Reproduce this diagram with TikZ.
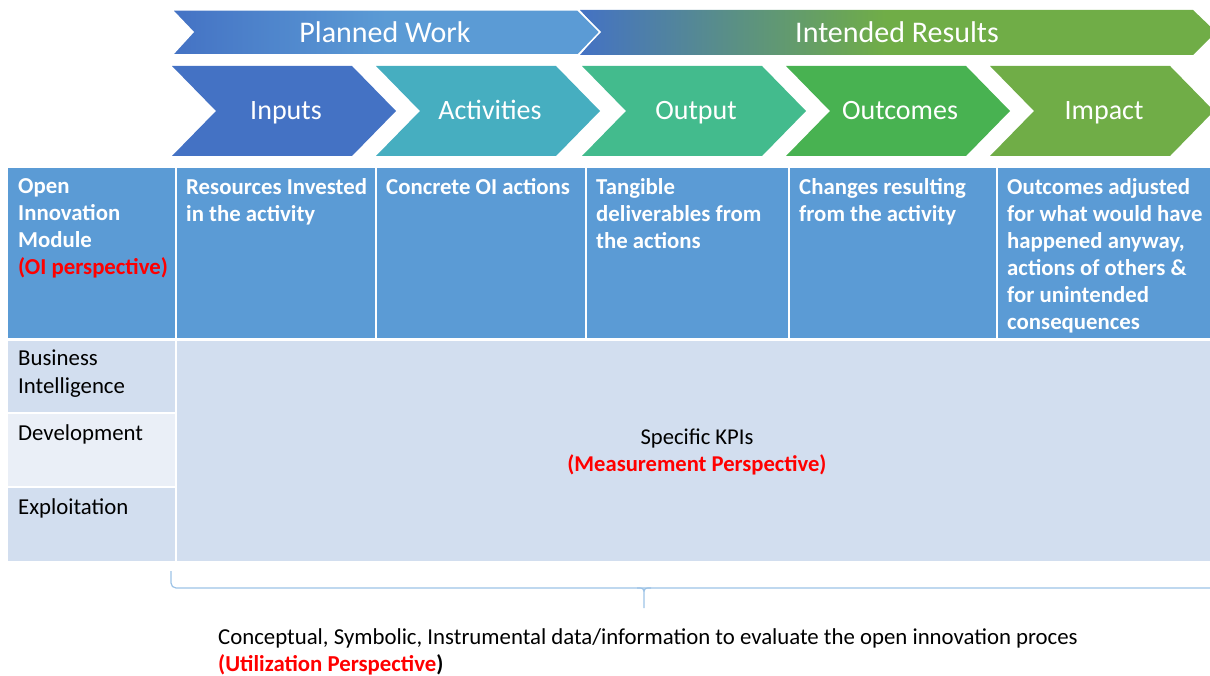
\documentclass[tikz,border=0pt]{standalone}
\usepackage{fontspec}
\setmainfont{Carlito}
\usetikzlibrary{positioning}
\definecolor{inblue}{HTML}{4472C4}
\definecolor{actteal}{HTML}{46AEC0}
\definecolor{outgreen}{HTML}{43BB8D}
\definecolor{ocgreen}{HTML}{48B251}
\definecolor{impgreen}{HTML}{70AD47}
\definecolor{hdrblue}{HTML}{5B9BD5}
\definecolor{kpifill}{HTML}{D2DEEF}
\definecolor{devfill}{HTML}{EAEFF7}
\definecolor{bracecol}{HTML}{9DC3E6}
\pgfdeclarehorizontalshading{planned}{100bp}{color(0bp)=(inblue); color(25bp)=(inblue); color(50bp)=(hdrblue); color(100bp)=(hdrblue)}
\pgfdeclarehorizontalshading{intended}{100bp}{color(0bp)=(inblue); color(25bp)=(inblue); color(49bp)=(impgreen); color(100bp)=(impgreen)}
\tikzset{
  chev/.style={font=\fontsize{28}{34}\selectfont,text=white,anchor=base},
  hdr/.style={font=\bfseries\fontsize{22.8}{27}\selectfont,text=white,anchor=north west,align=left,inner sep=0pt},
  rowlbl/.style={font=\fontsize{22.8}{28}\selectfont,anchor=north west,align=left,inner sep=0pt},
  sep/.style={white,line width=1.5pt}
}
\begin{document}
\begin{tikzpicture}[x=1pt,y=-1pt]
\useasboundingbox (0,0) rectangle (1210,676);
% banners
\shade[shading=intended] (580,10)--(1193,10)--(1216,32)--(1193,55)--(580,55)--(600,32)--cycle;
\shadedraw[shading=planned,draw=white,line width=1.5pt] (172,10)--(578,10)--(600,32)--(578,55)--(172,55)--(193,32)--cycle;
\node[chev,font=\fontsize{30}{34}\selectfont] (planned) at (385,43) {Planned Work};
\node[chev,font=\fontsize{30}{34}\selectfont] (intended) at (897,43) {Intended Results};
\foreach \s/\c/\lbl/\nm in {172/inblue/Inputs/inputs,376/actteal/Activities/activities,582/outgreen/Output/output,786/ocgreen/Outcomes/outcomes,990/impgreen/Impact/impact}{
  \fill[\c] (\s,66)--++(180,0)--++(44,45)--++(-44,45)--++(-180,0)--++(44,-45)--cycle;
  \node[chev] (\nm) at (\s+114,120) {\lbl};
}
% table
\fill[hdrblue] (8,168) rectangle (1210,338);
\fill[kpifill] (8,341) rectangle (1210,561);
\fill[devfill] (8,413) rectangle (176,487);
\foreach \x in {176,376,586,789,997} \draw[sep] (\x,168)--(\x,338);
\draw[sep] (176,341)--(176,561) (8,413)--(176,413) (8,487)--(176,487);
\node[hdr] (module) at (18,178) {Open\\Innovation\\Module\\\textcolor{red}{(OI perspective)}};
\node[hdr] (resources) at (186,178) {Resources Invested\\in the activity};
\node[hdr] (concrete) at (386,178) {Concrete OI actions};
\node[hdr] (tangible) at (596,178) {Tangible\\deliverables from\\the actions};
\node[hdr] (changes) at (799,178) {Changes resulting\\from the activity};
\node[hdr] (adjusted) at (1007,178) {Outcomes adjusted\\for what would have\\happened anyway,\\actions of others \&\\for unintended\\consequences};
\node[rowlbl] (bi) at (18,350) {Business\\Intelligence};
\node[rowlbl] (dev) at (18,424) {Development};
\node[rowlbl] (expl) at (18,498) {Exploitation};
\node[font=\fontsize{22.6}{27}\selectfont,align=center] (kpi) at (697,452) {Specific KPIs\\\textcolor{red}{\bfseries(Measurement Perspective)}};
% brace
\draw[bracecol,line width=1.2pt,rounded corners=5pt] (171,571)--(171,588)--(1212,588);
\draw[bracecol,line width=1.2pt] (637,588) .. controls (644,588) .. (644,596)--(644,608) (644,596) .. controls (644,588) .. (651,588);
\node[rowlbl,font=\fontsize{22.8}{27}\selectfont] (usage) at (218,628) {Conceptual, Symbolic, Instrumental data/information to evaluate the open innovation proces\\\textcolor{red}{\bfseries(Utilization Perspective}\bfseries)};
\end{tikzpicture}
\end{document}
